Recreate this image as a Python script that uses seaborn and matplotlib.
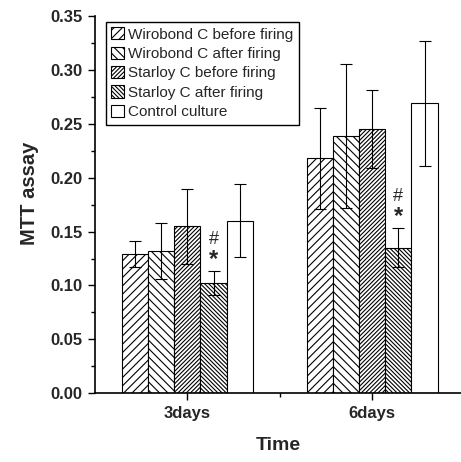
import matplotlib
matplotlib.use("Agg")
import matplotlib.pyplot as plt
import seaborn as sns
import pandas as pd
import numpy as np

# ---- data ----
times = ["3days", "6days"]
groups = ["Wirobond C before firing", "Wirobond C after firing",
          "Starloy C before firing", "Starloy C after firing", "Control culture"]
mean_3d = [0.129, 0.132, 0.155, 0.102, 0.160]
mean_6d = [0.218, 0.239, 0.245, 0.135, 0.269]
err_3d = [0.012, 0.026, 0.035, 0.011, 0.034]
err_6d = [0.047, 0.067, 0.036, 0.018, 0.058]
hatches = ["////", "\\\\\\\\", "////////", "\\\\\\\\\\\\\\\\", ""]
marked_group = "Starloy C after firing"

rows = []
for t, means, errs in [("3days", mean_3d, err_3d), ("6days", mean_6d, err_6d)]:
    for g, m, e in zip(groups, means, errs):
        rows.append({"Time": t, "Group": g, "MTT": m, "err": e})
df = pd.DataFrame(rows)

sns.set_style("ticks")
plt.rcParams["font.family"] = ["Liberation Sans", "DejaVu Sans"]
plt.rcParams["hatch.linewidth"] = 0.8

fig = plt.figure(figsize=(4.61, 4.62), dpi=100)
ax = fig.add_axes([0.206, 0.149, 0.794, 0.816])

sns.barplot(data=df, x="Time", y="MTT", hue="Group", order=times, hue_order=groups,
            palette=["white"] * len(groups), edgecolor="black", linewidth=0.8,
            errorbar=None, width=0.707, dodge=True, ax=ax, legend=False)

bar_containers = list(ax.containers)
for cont, h, g in zip(bar_containers, hatches, groups):
    sub = df[df["Group"] == g].set_index("Time").loc[times]
    xs = []
    for p in cont.patches:
        p.set_hatch(h)
        p.set_facecolor("white")
        p.set_edgecolor("black")
        xs.append(p.get_x() + p.get_width() / 2)
    ax.errorbar(xs, sub["MTT"].values, yerr=sub["err"].values, fmt="none",
                ecolor="black", elinewidth=0.8, capsize=4.3, capthick=0.8, zorder=3)
    if g == marked_group:
        for x, m, e in zip(xs, sub["MTT"].values, sub["err"].values):
            ax.text(x, m + e + 0.011, "*", ha="center", va="center",
                    fontsize=17, fontweight="bold")
            ax.text(x, m + e + 0.030, "#", ha="center", va="center", fontsize=13)

handles = [c.patches[0] for c in bar_containers]
leg = ax.legend(handles=handles, labels=groups, loc="upper left",
                bbox_to_anchor=(0.03, 0.985), borderaxespad=0, fontsize=11,
                frameon=True, fancybox=False, edgecolor="black", framealpha=1,
                handlelength=0.85, handleheight=0.85, handletextpad=0.25,
                labelspacing=0.33, borderpad=0.35)
leg.get_frame().set_linewidth(1.0)

ax.set_xlim(-0.5, 1.48)
ax.set_ylim(0, 0.35)
ax.set_yticks(np.arange(0, 0.351, 0.05))
ax.set_yticks(np.arange(0, 0.351, 0.025), minor=True)
ax.set_xticks([0.5], minor=True)
ax.set_yticklabels([f"{v:.2f}" for v in np.arange(0, 0.351, 0.05)])
ax.tick_params(which="major", length=5, width=1.0, direction="out", color="black",
               labelsize=12, pad=4)
ax.tick_params(which="minor", length=3, width=1.0, direction="out", color="black")
ax.set_xlabel("Time", fontsize=14, fontweight="bold", labelpad=12)
ax.set_ylabel("MTT assay", fontsize=14.5, fontweight="bold")
ax.yaxis.set_label_coords(-0.152, 0.53)
for s in ["top", "right"]:
    ax.spines[s].set_visible(False)
for s in ["left", "bottom"]:
    ax.spines[s].set_linewidth(1.2)
    ax.spines[s].set_color("black")
for lab in ax.get_xticklabels() + ax.get_yticklabels():
    lab.set_fontweight("bold")

fig.savefig("out.png", dpi=100)
